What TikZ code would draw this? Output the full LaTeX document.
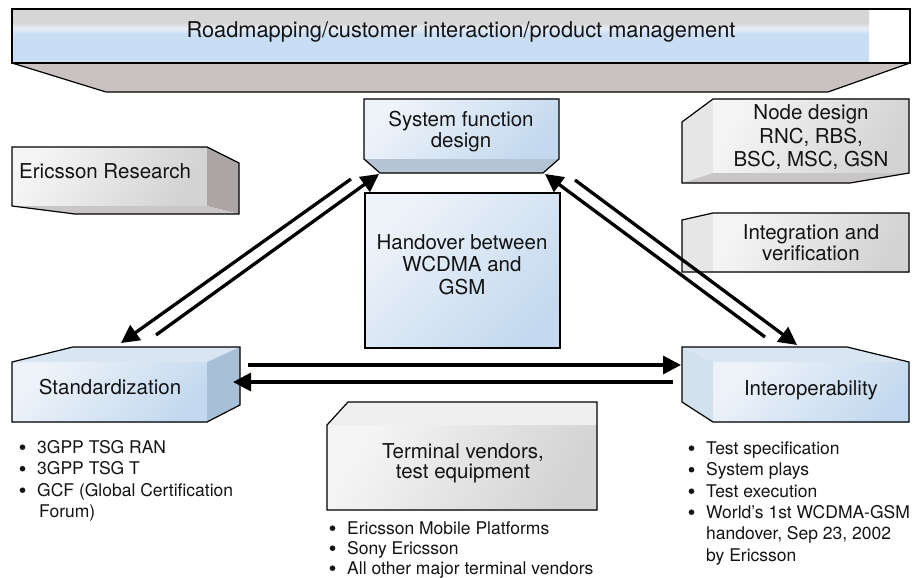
\documentclass[tikz,border=0pt]{standalone}
\usepackage{fontspec}
\setmainfont{TeX Gyre Heros}
\usetikzlibrary{arrows.meta}

\definecolor{ink}{HTML}{141414}
\definecolor{bngray}{HTML}{D6D6D6}
\definecolor{bnlight}{HTML}{E8EEF6}
\definecolor{bnblue}{HTML}{C9DDF4}
\definecolor{bnbevel}{HTML}{C8C3C1}
\definecolor{blueA}{HTML}{EEF3FA}
\definecolor{blueB}{HTML}{C4D9EF}
\definecolor{bluetop}{HTML}{D9E5F1}
\definecolor{blueleft}{HTML}{D3E1EF}
\definecolor{blueside}{HTML}{A7BFD7}
\definecolor{sfbevel}{HTML}{B4C4D4}
\definecolor{grayA}{HTML}{F5F5F5}
\definecolor{grayB}{HTML}{D3D3D3}
\definecolor{grayside}{HTML}{ABA5A5}
\definecolor{graybot}{HTML}{CBC6C6}
\definecolor{grayleft}{HTML}{E6E6E6}
\definecolor{graytop}{HTML}{EFEFEF}

\pgfdeclareverticalshading{bannershade}{100bp}{color(0bp)=(bnblue); color(25bp)=(bnblue); color(52bp)=(bnblue); color(57bp)=(bnlight); color(62bp)=(bngray); color(75bp)=(bngray); color(100bp)=(bngray)}

\newcommand\lblfont{\fontsize{20.5}{24}\selectfont}
\newcommand\bulfont{\fontsize{17.5}{21}\selectfont}

\tikzset{
  edge/.style={draw=black, line width=1.2pt, line join=miter},
  bluegrad/.style={left color=blueA, right color=blueB, shading angle=45},
  graygrad/.style={left color=grayA, right color=grayB, shading angle=60},
  lbl/.style={anchor=base, inner sep=0pt, text=ink, font=\lblfont},
  lbll/.style={lbl, anchor=base west},
  bitem/.style={anchor=base west, inner sep=0pt, text=ink, font=\bulfont},
  arr/.style={line width=3.3pt, draw=black, -{Triangle[length=18pt,width=18pt]}}
}

\begin{document}
\begin{tikzpicture}[x=1pt,y=-1pt]
\useasboundingbox (0,0) rectangle (914,578);
\fill[white] (0,0) rectangle (914,578);

% banner
\fill[bnbevel] (12,63) -- (106,92) -- (828,92) -- (910,63) -- cycle;
\shade[shading=bannershade] (12,9) rectangle (869,63);
\draw[edge] (12,63) -- (106,92) -- (828,92) -- (910,63);
\draw[edge] (12,9) rectangle (910,63);
\node[lbl, font=\fontsize{21.8}{25}\selectfont] (banner) at (461,38) {Roadmapping/customer interaction/product management};

% system function design
\shade[bluegrad] (364,99) rectangle (559,159);
\fill[sfbevel] (364,159) -- (559,159) -- (543,173) -- (380,173) -- cycle;
\draw[edge] (364,99) -- (559,99) -- (559,159) -- (543,173) -- (380,173) -- (364,159) -- cycle;
\node[lbl] (sfd1) at (461,127) {System function};
\node[lbl] (sfd2) at (461,147) {design};

% handover
\shade[bluegrad] (365,193) rectangle (560,348);
\draw[edge] (365,193) rectangle (560,348);
\node[lbl] (ho1) at (462,249) {Handover between};
\node[lbl] (ho2) at (462,271.5) {WCDMA and};
\node[lbl] (ho3) at (462,294) {GSM};

% Ericsson Research
\shade[graygrad] (12,147) rectangle (207,206);
\fill[grayside] (207,147) -- (239,163) -- (239,214) -- (207,206) -- cycle;
\fill[graybot] (12,206) -- (207,206) -- (239,214) -- (75,214) -- cycle;
\draw[edge] (12,147) -- (207,147) -- (239,163) -- (239,214) -- (75,214) -- (12,206) -- cycle;
\node[lbll] (er) at (19,178) {Ericsson Research};

% node design
\fill[grayleft] (682,122) -- (713,99) -- (713,173) -- (682,183) -- cycle;
\shade[graygrad] (713,99) rectangle (909,173);
\fill[graybot] (713,173) -- (909,173) -- (850,183) -- (682,183) -- cycle;
\draw[edge] (682,122) -- (713,99) -- (909,99) -- (909,173) -- (850,183) -- (682,183) -- cycle;
\node[lbl] (nd1) at (811,120) {Node design};
\node[lbl] (nd2) at (811,143) {RNC, RBS,};
\node[lbl] (nd3) at (811,166) {BSC, MSC, GSN};

% integration and verification
\fill[grayleft] (682,220) -- (713,213) -- (713,272) -- (682,272) -- cycle;
\shade[graygrad] (713,213) rectangle (909,272);
\draw[edge] (682,220) -- (713,213) -- (909,213) -- (909,272) -- (682,272) -- cycle;
\node[lbl] (iv1) at (811,239) {Integration and};
\node[lbl] (iv2) at (811,260) {verification};

% standardization
\shade[bluegrad] (12,362) rectangle (207,422);
\fill[bluetop] (12,362) -- (73,347) -- (240,347) -- (207,362) -- cycle;
\fill[blueside] (207,362) -- (240,347) -- (240,405) -- (207,422) -- cycle;
\draw[edge] (12,362) -- (73,347) -- (240,347) -- (240,405) -- (207,422) -- (12,422) -- cycle;
\node[lbl] (std) at (110,394) {Standardization};

% interoperability
\shade[bluegrad] (713,362) rectangle (909,422);
\fill[blueleft] (682,347) -- (713,362) -- (713,422) -- (682,402) -- cycle;
\fill[bluetop] (682,347) -- (847,347) -- (909,362) -- (713,362) -- cycle;
\draw[edge] (682,347) -- (847,347) -- (909,362) -- (909,422) -- (713,422) -- (682,402) -- cycle;
\node[lbl] (iop) at (811,395) {Interoperability};

% terminal vendors
\shade[graygrad] (327,425) rectangle (597,510);
\fill[graytop] (327,425) -- (348,402) -- (597,402) -- (597,425) -- cycle;
\draw[edge] (327,425) -- (348,402) -- (597,402) -- (597,510) -- (327,510) -- cycle;
\node[lbl] (tv1) at (463,458) {Terminal vendors,};
\node[lbl] (tv2) at (463,478) {test equipment};

% connector end points
\coordinate (sfdL) at (379,174);
\coordinate (sfdR) at (545,174);
\coordinate (stdT) at (121,343);
\coordinate (stdR) at (233,382);
\coordinate (iopT) at (797,345);
\coordinate (iopL) at (681,365);
\coordinate (fromSfdL) at (351,179);
\coordinate (fromStdT) at (156,335);
\coordinate (fromSfdR) at (575,180);
\coordinate (fromIopT) at (765,337);
\coordinate (fromStdR) at (248,365);
\coordinate (fromIopL) at (673,382);

\draw[arr] (fromSfdL) -- (stdT);
\draw[arr] (fromStdT) -- (sfdL);
\draw[arr] (fromIopT) -- (sfdR);
\draw[arr] (fromSfdR) -- (iopT);
\draw[arr] (fromStdR) -- (iopL);
\draw[arr] (fromIopL) -- (stdR);

% bullet lists
\node[bitem] (s1) at (37,453) {3GPP TSG RAN};
\node[bitem] (s2) at (37,474.5) {3GPP TSG T};
\node[bitem] (s3) at (37,496) {GCF (Global Certification};
\node[bitem] (s4) at (39,517) {Forum)};

\node[bitem] (i1) at (706,454) {Test specification};
\node[bitem] (i2) at (706,475.5) {System plays};
\node[bitem] (i3) at (706,497) {Test execution};
\node[bitem] (i4) at (706,518) {World’s 1st WCDMA-GSM};
\node[bitem] (i5) at (706,539.5) {handover, Sep 23, 2002};
\node[bitem] (i6) at (706,561) {by Ericsson};

\node[bitem] (t1) at (347,534) {Ericsson Mobile Platforms};
\node[bitem] (t2) at (347,554) {Sony Ericsson};
\node[bitem] (t3) at (347,574) {All other major terminal vendors};

% bullet dots
\foreach \n in {s1,s2,s3,i1,i2,i3,i4,t1,t2,t3}
  \fill[ink] ([xshift=-14.5pt,yshift=5.8pt]\n.base west) circle (2.8pt);
\end{tikzpicture}
\end{document}
